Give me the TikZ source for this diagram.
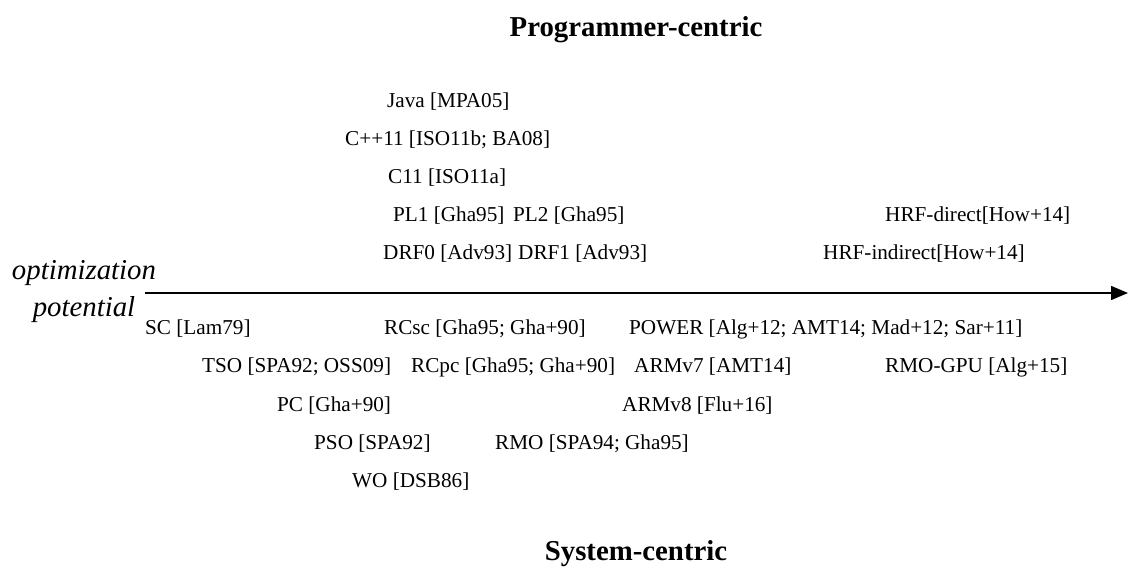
\documentclass[tikz,border=0pt]{standalone}
\usepackage{fontspec}
\setmainfont{Liberation Serif}
\usetikzlibrary{arrows.meta}
\begin{document}
\begin{tikzpicture}[x=1pt,y=-1pt,
  lbl/.style={anchor=west,inner sep=0pt,font=\fontsize{21.2}{25}\selectfont},
  head/.style={inner sep=0pt,font=\fontsize{28.8}{34}\selectfont\bfseries},
  axlbl/.style={inner sep=0pt,align=center,font=\fontsize{28.8}{37}\selectfont\itshape},
  axis/.style={line width=1.5pt,-{Triangle[length=17pt,width=14pt]}}]
\fill[white] (0,0) rectangle (1128,572);
\useasboundingbox (0,0) rectangle (1128,572);
\node[head] (prog) at (636,30) {Programmer-centric};
\node[head] (sys) at (636,554) {System-centric};
\node[axlbl] (opt) at (84,292) {optimization\\potential};
\coordinate (axstart) at (145,293);
\coordinate (axend) at (1128,293);
\draw[axis] (axstart) -- (axend);
% programmer-centric models
\node[lbl] (java) at (387,102) {Java [MPA05]};
\node[lbl] (cpp) at (345,140) {C++11 [ISO11b; BA08]};
\node[lbl] (c11) at (388,178) {C11 [ISO11a]};
\node[lbl] (pl1) at (393,216) {PL1 [Gha95]};
\node[lbl] (pl2) at (513,216) {PL2 [Gha95]};
\node[lbl] (drf0) at (383,254) {DRF0 [Adv93]};
\node[lbl] (drf1) at (518,254) {DRF1 [Adv93]};
\node[lbl] (hrfd) at (885,216) {HRF-direct[How+14]};
\node[lbl] (hrfi) at (823,254) {HRF-indirect[How+14]};
% system-centric models
\node[lbl] (sc) at (145,329) {SC [Lam79]};
\node[lbl] (rcsc) at (384,329) {RCsc [Gha95; Gha+90]};
\node[lbl] (power) at (629,329) {POWER [Alg+12; AMT14; Mad+12; Sar+11]};
\node[lbl] (tso) at (202,367) {TSO [SPA92; OSS09]};
\node[lbl] (rcpc) at (411,367) {RCpc [Gha95; Gha+90]};
\node[lbl] (armv7) at (634,367) {ARMv7 [AMT14]};
\node[lbl] (rmogpu) at (885,367) {RMO-GPU [Alg+15]};
\node[lbl] (pc) at (277,406) {PC [Gha+90]};
\node[lbl] (armv8) at (622,406) {ARMv8 [Flu+16]};
\node[lbl] (pso) at (314,444) {PSO [SPA92]};
\node[lbl] (rmo) at (495,444) {RMO [SPA94; Gha95]};
\node[lbl] (wo) at (352,482) {WO [DSB86]};
\end{tikzpicture}
\end{document}
